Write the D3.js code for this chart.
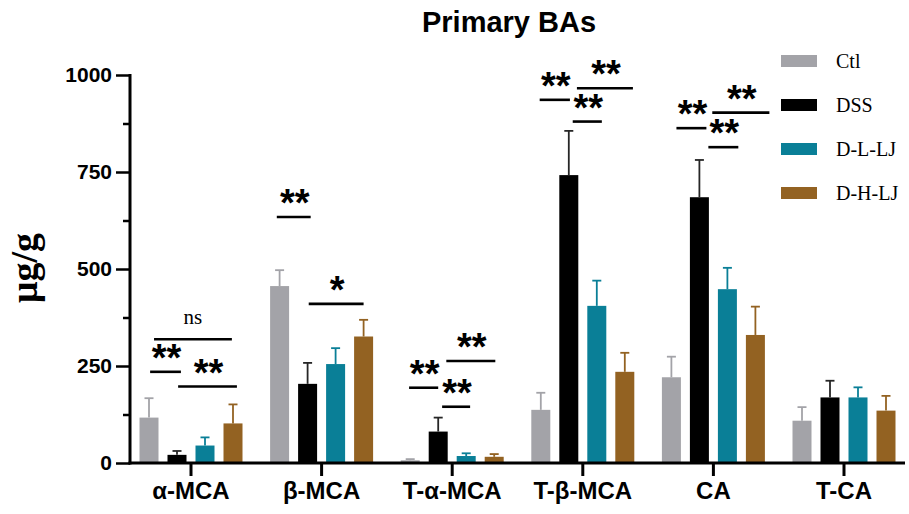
<!DOCTYPE html>
<html>
<head>
<meta charset="utf-8">
<script src="https://cdn.jsdelivr.net/npm/d3@7"></script>
<style>
  html, body { margin: 0; padding: 0; background: #fff; }
  svg { display: block; }
</style>
</head>
<body>
<svg id="chart" width="909" height="514"></svg>
<script>
// ---- data ----
const categories = ["α-MCA", "β-MCA", "T-α-MCA", "T-β-MCA", "CA", "T-CA"];
const groups = ["Ctl", "DSS", "D-L-LJ", "D-H-LJ"];
const ctlMean = [117, 456, 7, 137, 221, 109];
const ctlErr  = [50, 41, 3, 44, 53, 35];
const dssMean = [21, 204, 81, 742, 685, 169];
const dssErr  = [10, 54, 36, 114, 96, 43];
const dllMean = [45, 255, 18, 405, 448, 169];
const dllErr  = [21, 41, 7, 65, 55, 26];
const dhlMean = [102, 326, 16, 235, 330, 135];
const dhlErr  = [49, 43, 7, 49, 73, 38];
const yTicks = [0, 250, 500, 750, 1000];
const yMinorTicks = [125, 375, 625, 875];
// significance brackets: category, from/to (in bar slots relative to group centre), line level (µg/g), label
const sigCat   = [0, 0, 0, 1, 1, 2, 2, 2, 3, 3, 3, 4, 4, 4];
const sigFrom  = [-1.32, -1.46, -0.46, -1.6, -0.46, -1.54, -0.36, -0.21, -1.54, -0.36, -0.21, -1.32, -0.18, -0.04];
const sigTo    = [1.46, -0.36, 1.64, -0.39, 1.5, -0.5, 0.64, 1.54, -0.46, 0.68, 1.79, -0.25, 0.89, 2.0];
const sigLevel = [319, 235, 197, 634, 410, 194, 145, 263, 936, 880, 966, 863, 814, 903];
const sigLabel = ["ns", "**", "**", "**", "*", "**", "**", "**", "**", "**", "**", "**", "**", "**"];

const series = [
  { name: groups[0], mean: ctlMean, err: ctlErr, fill: "#a3a3a8", stroke: "#a3a3a8" },
  { name: groups[1], mean: dssMean, err: dssErr, fill: "#000000", stroke: "#262626" },
  { name: groups[2], mean: dllMean, err: dllErr, fill: "#0a7f97", stroke: "#0a7f97" },
  { name: groups[3], mean: dhlMean, err: dhlErr, fill: "#936222", stroke: "#936222" }
];

// ---- layout ----
const svg = d3.select("#chart");
const axisX = 130, axisRight = 905, yTop = 75, yBottom = 463;

const x = d3.scaleBand().domain(categories).range([125.7, 909.3]);
const slot = 28;
const xInner = d3.scaleBand().domain(groups).range([-2 * slot, 2 * slot]);
const barW = 19;
const y = d3.scaleLinear().domain([0, 1000]).range([yBottom, yTop]);
const cx = c => x(c) + x.bandwidth() / 2;

// title
svg.append("text")
  .attr("x", 509).attr("y", 32)
  .attr("text-anchor", "middle")
  .style("font-family", "'Liberation Sans', Arial, sans-serif")
  .style("font-weight", "bold").style("font-size", "29px")
  .text("Primary BAs");

// y label
svg.append("text")
  .attr("transform", "translate(37,268) rotate(-90)")
  .attr("text-anchor", "middle")
  .style("font-family", "'Liberation Serif', 'Times New Roman', serif")
  .style("font-weight", "bold").style("font-size", "38px")
  .text("μg/g");

// bars
const gBars = svg.append("g");
series.forEach((s, si) => {
  const g = gBars.append("g");
  categories.forEach((c, ci) => {
    const bx = cx(c) + xInner(s.name) + xInner.bandwidth() / 2;
    g.append("rect")
      .attr("x", bx - barW / 2).attr("width", barW)
      .attr("y", y(s.mean[ci])).attr("height", y(0) - y(s.mean[ci]))
      .attr("fill", s.fill);
    const top = s.mean[ci] + s.err[ci];
    g.append("line")
      .attr("x1", bx).attr("x2", bx)
      .attr("y1", y(s.mean[ci])).attr("y2", y(top))
      .attr("stroke", s.stroke).attr("stroke-width", 1.8);
    g.append("line")
      .attr("x1", bx - 4.5).attr("x2", bx + 4.5)
      .attr("y1", y(top)).attr("y2", y(top))
      .attr("stroke", s.stroke).attr("stroke-width", 1.8);
  });
});

// y axis
const yAxis = d3.axisLeft(y).tickValues(yTicks).tickFormat(d3.format("d"))
  .tickSize(14).tickSizeOuter(0).tickPadding(4);
const gy = svg.append("g").attr("transform", `translate(${axisX},0)`).call(yAxis);
gy.select(".domain").remove();
gy.selectAll(".tick line").attr("stroke", "#000").attr("stroke-width", 2.5);
gy.selectAll(".tick text")
  .style("font-family", "'Liberation Sans', Arial, sans-serif")
  .style("font-weight", "bold").style("font-size", "21px").attr("fill", "#000");
const yMinor = d3.axisLeft(y).tickValues(yMinorTicks).tickSize(7).tickSizeOuter(0).tickFormat("");
const gym = svg.append("g").attr("transform", `translate(${axisX},0)`).call(yMinor);
gym.select(".domain").remove();
gym.selectAll(".tick line").attr("stroke", "#000").attr("stroke-width", 2.5);
svg.append("line")
  .attr("x1", axisX).attr("x2", axisX)
  .attr("y1", yTop - 1).attr("y2", yBottom + 1.5)
  .attr("stroke", "#000").attr("stroke-width", 3);

// x axis
const xAxis = d3.axisBottom(x).tickSize(13).tickSizeOuter(0).tickPadding(6);
const gx = svg.append("g").attr("transform", `translate(0,${yBottom})`).call(xAxis);
gx.select(".domain").remove();
gx.selectAll(".tick line").attr("stroke", "#000").attr("stroke-width", 3);
gx.selectAll(".tick text")
  .style("font-family", "'Liberation Sans', Arial, sans-serif")
  .style("font-weight", "bold").style("font-size", "24px").attr("fill", "#000");
svg.append("line")
  .attr("x1", axisX - 1.5).attr("x2", axisRight)
  .attr("y1", yBottom).attr("y2", yBottom)
  .attr("stroke", "#000").attr("stroke-width", 3);

// significance
const gSig = svg.append("g");
sigCat.forEach((ci, i) => {
  const c = cx(categories[ci]);
  const x1 = c + sigFrom[i] * slot, x2 = c + sigTo[i] * slot;
  const ly = y(sigLevel[i]);
  gSig.append("line")
    .attr("x1", x1).attr("x2", x2).attr("y1", ly).attr("y2", ly)
    .attr("stroke", "#000").attr("stroke-width", 2.6);
  if (sigLabel[i] === "ns") {
    gSig.append("text")
      .attr("x", (x1 + x2) / 2).attr("y", ly - 15)
      .attr("text-anchor", "middle")
      .style("font-family", "'Liberation Serif', 'Times New Roman', serif")
      .style("font-size", "21px")
      .text(sigLabel[i]);
  } else {
    gSig.append("text")
      .attr("x", (x1 + x2) / 2 + 1).attr("y", ly - 1)
      .attr("text-anchor", "middle")
      .style("font-family", "'Liberation Sans', Arial, sans-serif")
      .style("font-weight", "bold").style("font-size", "38px")
      .text(sigLabel[i]);
  }
});

// legend
const legend = svg.append("g");
series.forEach((s, i) => {
  const ly = 61 + i * 44;
  legend.append("rect")
    .attr("x", 781).attr("y", ly - 6).attr("width", 36).attr("height", 12)
    .attr("fill", s.fill);
  legend.append("text")
    .attr("x", 836).attr("y", ly + 7)
    .style("font-family", "'Liberation Serif', 'Times New Roman', serif")
    .style("font-size", "20px")
    .text(s.name);
});
</script>
</body>
</html>
